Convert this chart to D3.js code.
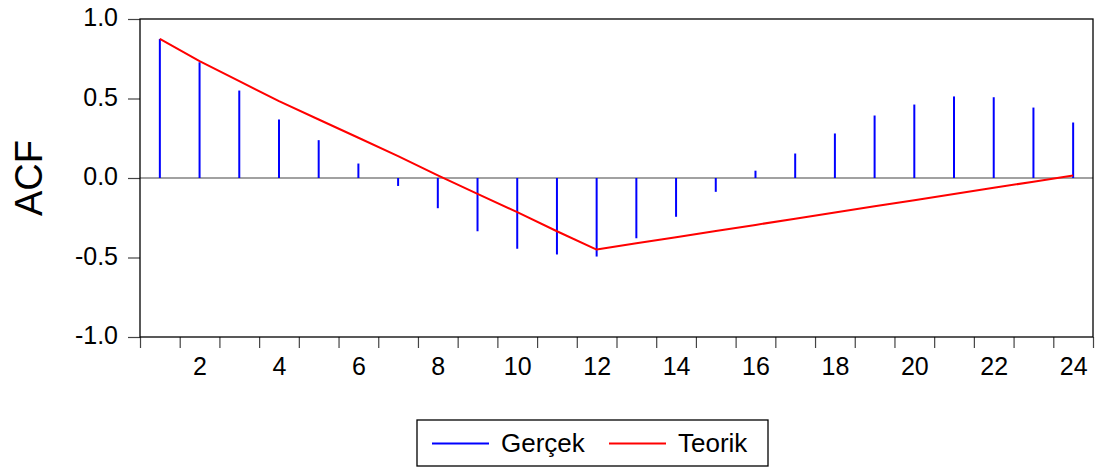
<!DOCTYPE html>
<html>
<head>
<meta charset="utf-8">
<script src="https://cdn.jsdelivr.net/npm/d3@7"></script>
<style>
  html, body { margin: 0; padding: 0; background: #fff; }
  svg { display: block; }
  text { font-family: "Liberation Sans", Arial, sans-serif; fill: #000; }
</style>
</head>
<body>
<svg id="chart" width="1099" height="468"></svg>
<script>
// Lags of the autocorrelation function
const lags = d3.range(1, 25);
// Sample ACF ("Gerçek")
const gercek = [0.875, 0.728, 0.550, 0.368, 0.238, 0.091, -0.050, -0.190,
                -0.335, -0.445, -0.481, -0.494, -0.379, -0.244, -0.087, 0.046,
                0.154, 0.280, 0.393, 0.462, 0.513, 0.508, 0.443, 0.349];
// Theoretical ACF ("Teorik")
const teorik = [0.875, 0.735, 0.609, 0.483, 0.368, 0.253, 0.137, 0.016,
                -0.100, -0.215, -0.335, -0.450, -0.411, -0.372, -0.334, -0.295,
                -0.256, -0.217, -0.178, -0.140, -0.101, -0.062, -0.023, 0.016];
const yTicks = [-1.0, -0.5, 0.0, 0.5, 1.0];
const xLabelLags = d3.range(2, 25, 2);
const legendItems = [
  { name: "Gerçek", color: "#0000ff" },
  { name: "Teorik", color: "#ff0000" }
];

const svg = d3.select("#chart");
const plot = { left: 140, right: 1093, top: 19, bottom: 337 };

const x = d3.scaleLinear().domain([0.5, 24.5]).range([plot.left, plot.right]);
const y = d3.scaleLinear().domain([-1, 1]).range([plot.bottom, plot.top]);

const fmt = v => d3.format(".1f")(v).replace("\u2212", "-");

// Y axis
const yAxis = svg.append("g")
  .attr("transform", `translate(${plot.left},0)`)
  .call(d3.axisLeft(y).tickValues(yTicks).tickFormat(fmt).tickSize(12).tickPadding(10));
yAxis.select(".domain").remove();
yAxis.selectAll(".tick line").attr("stroke", "#444").attr("stroke-width", 1.2);
yAxis.selectAll(".tick text")
  .attr("dy", "0.27em")
  .style("font-size", "25px")
  .style("font-family", "'Liberation Sans', Arial, sans-serif");

// X axis: ticks on the lag boundaries, labels on even lags
const boundaries = d3.range(0.5, 25, 1);
const xTickAxis = svg.append("g")
  .attr("transform", `translate(0,${plot.bottom})`)
  .call(d3.axisBottom(x).tickValues(boundaries).tickFormat("").tickSize(11));
xTickAxis.select(".domain").remove();
xTickAxis.selectAll(".tick line").attr("stroke", "#444").attr("stroke-width", 1.2);

const xLabelAxis = svg.append("g")
  .attr("transform", `translate(0,${plot.bottom})`)
  .call(d3.axisBottom(x).tickValues(xLabelLags).tickFormat(d3.format("d")).tickSize(0).tickPadding(20));
xLabelAxis.select(".domain").remove();
xLabelAxis.selectAll(".tick text")
  .style("font-size", "25px")
  .style("font-family", "'Liberation Sans', Arial, sans-serif");

// Zero line
svg.append("line")
  .attr("x1", plot.left).attr("x2", plot.right)
  .attr("y1", y(0)).attr("y2", y(0))
  .attr("stroke", "#444").attr("stroke-width", 1.2);

// Sample ACF spikes
svg.append("g").selectAll("line")
  .data(lags)
  .join("line")
  .attr("x1", d => x(d)).attr("x2", d => x(d))
  .attr("y1", y(0))
  .attr("y2", (d, i) => y(gercek[i]))
  .attr("stroke", "#0000ff")
  .attr("stroke-width", 2);

// Theoretical ACF line
svg.append("path")
  .datum(lags)
  .attr("fill", "none")
  .attr("stroke", "#ff0000")
  .attr("stroke-width", 2)
  .attr("stroke-linejoin", "round")
  .attr("d", d3.line().x(d => x(d)).y((d, i) => y(teorik[i])));

// Plot frame
svg.append("rect")
  .attr("x", plot.left).attr("y", plot.top)
  .attr("width", plot.right - plot.left)
  .attr("height", plot.bottom - plot.top)
  .attr("fill", "none")
  .attr("stroke", "#000")
  .attr("stroke-width", 1.3);

// Y axis title
svg.append("text")
  .attr("transform", `translate(42,${(plot.top + plot.bottom) / 2}) rotate(-90)`)
  .attr("text-anchor", "middle")
  .style("font-size", "38px")
  .text("ACF");

// Legend
const legend = svg.append("g");
legend.append("rect")
  .attr("x", 417).attr("y", 420)
  .attr("width", 351).attr("height", 46)
  .attr("fill", "#fff").attr("stroke", "#000").attr("stroke-width", 1.3);
const lx = [432, 609];
legendItems.forEach((item, i) => {
  legend.append("line")
    .attr("x1", lx[i]).attr("x2", lx[i] + 57)
    .attr("y1", 443.5).attr("y2", 443.5)
    .attr("stroke", item.color).attr("stroke-width", 2);
  legend.append("text")
    .attr("x", lx[i] + 69).attr("y", 452)
    .style("font-size", "26px")
    .text(item.name);
});
</script>
</body>
</html>
